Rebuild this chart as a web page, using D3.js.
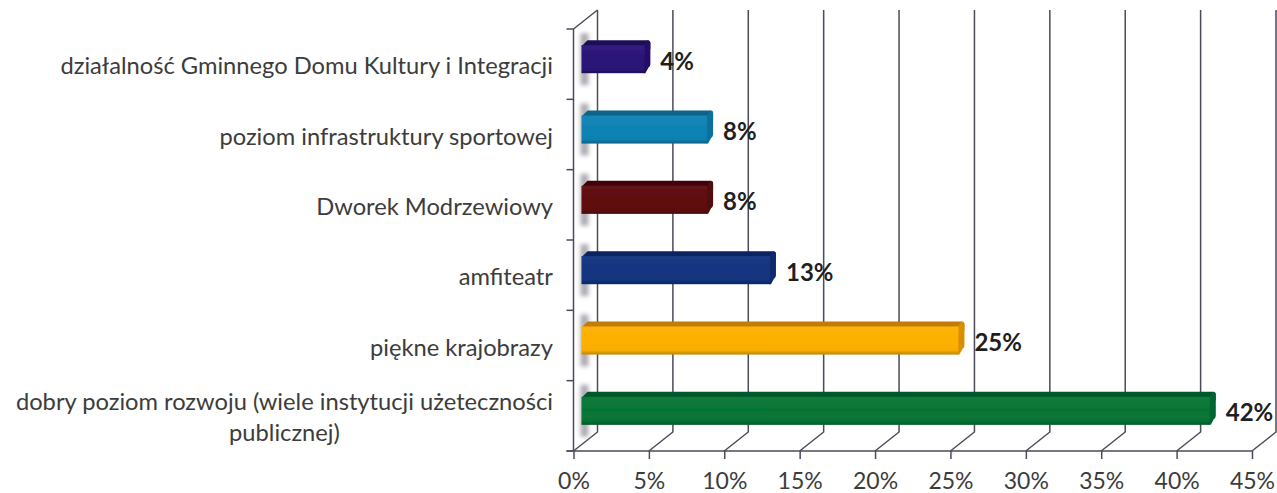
<!DOCTYPE html>
<html><head><meta charset="utf-8">
<script src="https://cdn.jsdelivr.net/npm/d3@7/dist/d3.min.js"></script>
<style>html,body{margin:0;background:#fff;overflow:hidden}svg{display:block}
text{font-family:Lato,sans-serif;fill:#3c3c3c}</style></head>
<body><svg id="c" width="1277" height="493"></svg>
<script>
const categories = [
  ["działalność Gminnego Domu Kultury i Integracji"],
  ["poziom infrastruktury sportowej"],
  ["Dworek Modrzewiowy"],
  ["amfiteatr"],
  ["piękne krajobrazy"],
  ["dobry poziom rozwoju (wiele instytucji użeteczności","publicznej)"]
];
const values = [4.17, 8.33, 8.33, 12.5, 25, 41.67];
const valueLabels = ["4%","8%","8%","13%","25%","42%"];
const frontColors = ["#2a1478","#0f82b4","#5e0a0f","#123480","#fdb000","#067535"];
const topColors   = ["#1c0d58","#0b6488","#420508","#0c2360","#c47c05","#04592a"];
const sideColors  = ["#241068","#0d6f9a","#50080c","#0f2b6d","#d98e02","#056630"];
const xTicks = [0,5,10,15,20,25,30,35,40,45];

const svg = d3.select("#c");
const x = d3.scaleLinear().domain([0,45]).range([573.5,1252]);
const y = d3.scaleBand().domain(d3.range(categories.length)).range([29,451]);
const depth = {dx:24, dy:-19};
const barStart = 8, barDepth = {dx:6, dy:-5};
const barH = 28;
const lineCol = "#4b4b5c";

const defs = svg.append("defs");
defs.append("filter").attr("id","soft").append("feGaussianBlur").attr("stdDeviation",0.5);
defs.append("filter").attr("id","shadow").attr("x","-100%").attr("width","300%")
  .append("feGaussianBlur").attr("stdDeviation",2);
const gloss = defs.append("linearGradient").attr("id","gloss").attr("x1",0).attr("x2",0).attr("y1",0).attr("y2",1);
[[0,"#fff",0.04],[0.45,"#fff",0],[0.85,"#000",0.02],[1,"#000",0.25]].forEach(s=>
  gloss.append("stop").attr("offset",s[0]).attr("stop-color",s[1]).attr("stop-opacity",s[2]));

const marks = svg.append("g").attr("filter","url(#soft)");
marks.append("g").selectAll("path").data(xTicks).join("path")
  .attr("fill","none").attr("stroke",lineCol).attr("stroke-width",1.5)
  .attr("d",d=>{
    const p=d3.path();
    p.moveTo(x(d),y.range()[1]);
    p.lineTo(x(d)+depth.dx,y.range()[1]+depth.dy);
    p.lineTo(x(d)+depth.dx,y.range()[0]+depth.dy);
    return p.toString();
  });
const wall=d3.path();
wall.moveTo(x(0),y.range()[0]);wall.lineTo(x(0)+depth.dx,y.range()[0]+depth.dy);
marks.append("path").attr("d",wall.toString()).attr("stroke",lineCol).attr("stroke-width",1.5).attr("fill","none");

const xAxis = d3.axisBottom(x).tickValues(xTicks).tickFormat(d=>d+"%").tickSize(8).tickPadding(14);
const gx = svg.append("g").attr("transform",`translate(0,${y.range()[1]})`).call(xAxis);
gx.selectAll("line").attr("stroke",lineCol).attr("stroke-width",1.5);
gx.select(".domain").attr("stroke",lineCol).attr("stroke-width",1.5).attr("d",`M${x(0)-7},0H${x(45)}`);
gx.selectAll("text").attr("font-size",23).style("font-family","Lato,sans-serif").attr("fill","#3c3c3c");
const gy = svg.append("g").attr("transform",`translate(${x(0)},0)`);
gy.append("path").attr("stroke",lineCol).attr("stroke-width",1.5).attr("fill","none")
  .attr("d",`M0,${y.range()[1]}V${y.range()[0]}`);
gy.selectAll("line").data(d3.range(categories.length+1)).join("line")
  .attr("x1",-7).attr("x2",0)
  .attr("y1",i=>y.range()[0]+i*y.step()).attr("y2",i=>y.range()[0]+i*y.step())
  .attr("stroke",lineCol).attr("stroke-width",1.5);

const w = d=>x(d)-x(0);
const bars = svg.selectAll("g.bar").data(values).join("g").attr("class","bar")
  .attr("transform",(d,i)=>`translate(${x(0)+barStart},${y(i)+y.bandwidth()/2-barH/2-5})`);
bars.append("rect").attr("x",-1).attr("y",-12).attr("width",8).attr("height",barH+24)
  .attr("fill","#aeacb3").attr("filter","url(#shadow)");
const solid = bars.append("g").attr("filter","url(#soft)");
solid.append("path").attr("fill",(d,i)=>topColors[i])
  .attr("d",d=>`M0,1L${barDepth.dx},${barDepth.dy}H${w(d)+barDepth.dx-3}q3,0 3,3V4L${w(d)},1Z`);
solid.append("path").attr("fill",(d,i)=>sideColors[i])
  .attr("d",d=>`M${w(d)-1},1L${w(d)+barDepth.dx-3},${barDepth.dy}q3,0 3,3V${barH-9}q0,2 -2,3.5L${w(d)+1},${barH}H${w(d)-1}Z`);
solid.append("rect").attr("y",0).attr("width",w).attr("height",barH).attr("fill",(d,i)=>frontColors[i]);
solid.append("rect").attr("y",0).attr("width",w).attr("height",barH).attr("fill","url(#gloss)");

bars.append("text").attr("x",d=>w(d)+barDepth.dx+10).attr("y",barH/2+2).attr("dy","0.35em")
  .attr("font-size",24).attr("font-weight",700).style("fill","#1f1f1f")
  .text((d,i)=>valueLabels[i]);

const labels = svg.append("g").selectAll("text").data(categories).join("text")
  .attr("font-size",23.7)
  .attr("transform",(d,i)=>`translate(553,${y(i)+y.bandwidth()/2+(d.length>1?-6:2)})`);
labels.selectAll("tspan").data(d=>d.map((t,j)=>({t,j,n:d.length}))).join("tspan")
  .attr("text-anchor","end")
  .attr("x",0)
  .attr("dy",d=>d.j===0?(d.n>1?"0":"0.35em"):"1.3em")
  .text(d=>d.t);
labels.each(function(d){
  if(d.length<2) return;
  const t=d3.select(this).selectAll("tspan").nodes();
  const first=t[0].getComputedTextLength();
  d3.select(t[1]).attr("text-anchor","middle").attr("x",-first/2);
});
</script></body></html>
